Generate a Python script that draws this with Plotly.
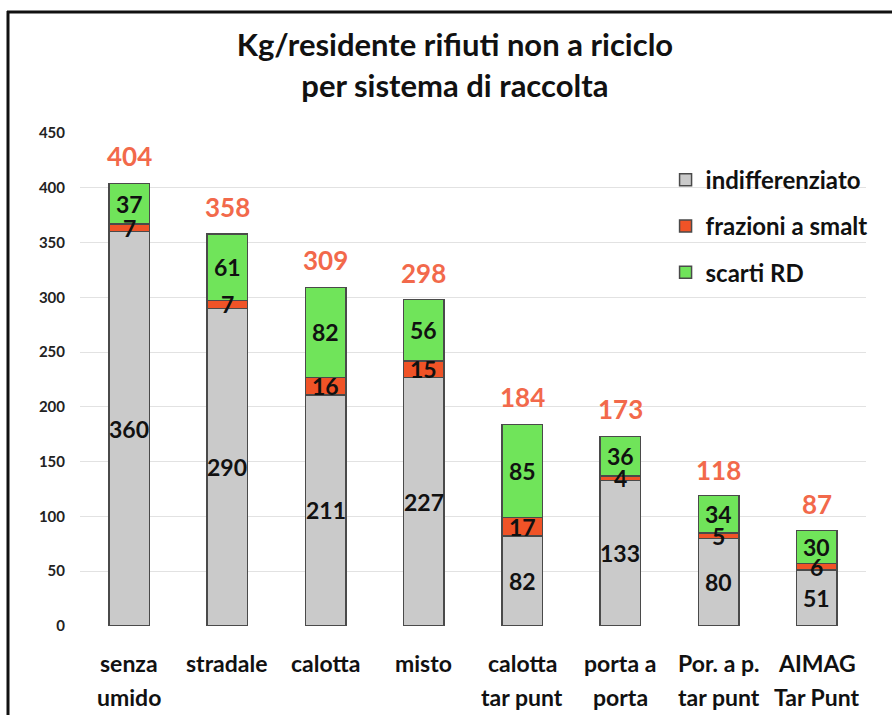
import plotly.graph_objects as go

categories = ["senza umido", "stradale", "calotta", "misto", "calotta tar punt",
              "porta a porta", "Por. a p. tar punt", "AIMAG Tar Punt"]
label_line1 = ["senza", "stradale", "calotta", "misto", "calotta", "porta a", "Por. a p.", "AIMAG"]
label_line2 = ["umido", "", "", "", "tar punt", "porta", "tar punt", "Tar Punt"]
indifferenziato = [360, 290, 211, 227, 82, 133, 80, 51]
frazioni = [7, 7, 16, 15, 17, 4, 5, 6]
scarti = [37, 61, 82, 56, 85, 36, 34, 30]
totali = [404, 358, 309, 298, 184, 173, 118, 87]
y_ticks = [0, 50, 100, 150, 200, 250, 300, 350, 400, 450]

FONT = "Lato"
series = [
    ("indifferenziato", indifferenziato, "#cacaca"),
    ("frazioni a smalt", frazioni, "#f05327"),
    ("scarti RD", scarti, "#70e45a"),
]

fig = go.Figure()
for i, (name, vals, col) in enumerate(series):
    fig.add_trace(go.Bar(
        x=categories, y=vals, name=f"<b>{name}</b>", legendgroup=name,
        marker=dict(color=col, line=dict(color="#4a4a4a", width=1.5)),
        width=0.41, hoverinfo="y+name",
    ))

annotations = []
bases = [0] * len(categories)
for name, vals, col in series:
    for j, v in enumerate(vals):
        annotations.append(dict(
            x=categories[j], y=bases[j] + v / 2, xref="x", yref="y",
            text=f"<b>{v}</b>", showarrow=False,
            font=dict(family=FONT, size=23, color="#111111"),
        ))
        bases[j] += v

for j, t in enumerate(totali):
    annotations.append(dict(
        x=categories[j], y=t, xref="x", yref="y", yanchor="bottom", yshift=9,
        text=f"<b>{t}</b>", showarrow=False,
        font=dict(family=FONT, size=26, color="#f2694b"),
    ))

for j in range(len(categories)):
    annotations.append(dict(
        x=categories[j], y=0, xref="x", yref="paper", yanchor="middle", yshift=-37,
        text=f"<b>{label_line1[j]}</b>", showarrow=False,
        font=dict(family=FONT, size=23, color="#111111"),
    ))
    if label_line2[j]:
        annotations.append(dict(
            x=categories[j], y=0, xref="x", yref="paper", yanchor="middle", yshift=-71,
            text=f"<b>{label_line2[j]}</b>", showarrow=False,
            font=dict(family=FONT, size=23, color="#111111"),
        ))

fig.update_layout(
    width=892, height=715,
    margin=dict(l=80, r=26, t=133, b=89),
    paper_bgcolor="white", plot_bgcolor="white",
    barmode="stack",
    title=dict(
        text="<b>Kg/residente rifiuti non a riciclo<br>per sistema di raccolta</b>",
        x=0.51, xanchor="center", y=0.921, yanchor="middle",
        font=dict(family=FONT, size=31, color="#111111"),
    ),
    xaxis=dict(showticklabels=False, showline=False, showgrid=False, zeroline=False,
               range=[-0.5, len(categories) - 0.5]),
    yaxis=dict(range=[0, 450], tickvals=y_ticks, ticktext=[f"<b>{v}</b>" for v in y_ticks],
               showgrid=True, gridcolor="#e2e2e2", gridwidth=1, zeroline=False,
               showline=False, ticks="", ticklabelstandoff=14,
               tickfont=dict(family=FONT, size=15, color="#222222")),
    legend=dict(x=0.745, y=0.95, xanchor="left", yanchor="top",
                traceorder="grouped", tracegroupgap=12,
                font=dict(family=FONT, size=24, color="#111111"),
                bgcolor="rgba(0,0,0,0)"),
    annotations=annotations,
    shapes=[
        dict(type="line", xref="paper", yref="paper",
             x0=(7 - 80) / 786, x1=(900 - 80) / 786,
             y0=1 + (133 - 12) / 493, y1=1 + (133 - 12) / 493,
             line=dict(color="#111111", width=3)),
        dict(type="line", xref="paper", yref="paper",
             x0=(8 - 80) / 786, x1=(8 - 80) / 786,
             y0=1 + (133 - 11) / 493, y1=-(720 - 626) / 493,
             line=dict(color="#111111", width=3)),
    ],
)

fig.write_html("out.html", config={"displayModeBar": False},
               post_script="document.body.style.margin='0px';document.body.style.overflow='hidden';")
